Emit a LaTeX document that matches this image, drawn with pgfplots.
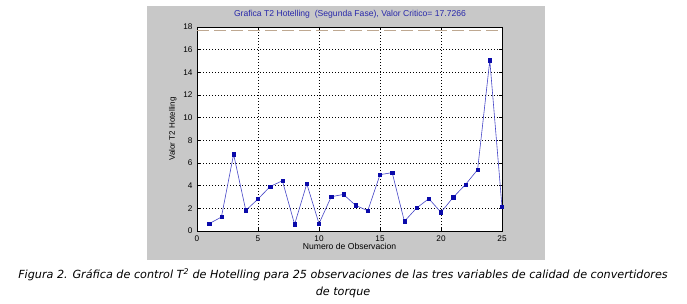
\documentclass[border=0pt]{standalone}
\usepackage{pgfplots}
\pgfplotsset{compat=1.18}
\usepackage{fontspec}
\setmainfont{Liberation Sans}
\newfontfamily\capfont{DejaVu Sans}
\definecolor{panelgray}{RGB}{200,200,200}
\definecolor{linecol}{RGB}{70,70,200}
\definecolor{markcol}{RGB}{10,10,170}
\definecolor{critcol}{RGB}{190,168,145}
\definecolor{titlecol}{RGB}{40,40,170}
\begin{document}
\begin{tikzpicture}[x=1pt,y=1pt]
\path[use as bounding box, fill=white] (0,0) rectangle (687,303);
\fill[panelgray] (147,43) rectangle (545,297);
\begin{axis}[
  at={(197pt,72pt)}, anchor=south west,
  width=305pt, height=204pt, scale only axis,
  xmin=0, xmax=25, ymin=0, ymax=18,
  xtick={0,5,...,25}, ytick={0,2,...,18},
  grid=major,
  major grid style={black, dash pattern=on 1pt off 2pt, line width=0.55pt},
  axis background/.style={fill=white},
  axis line style={black, line width=0.5pt},
  tick align=inside, major tick length=3pt,
  tick style={black, line width=0.4pt},
  tick label style={font=\fontsize{8.2}{9}\selectfont},
  /pgf/number format/assume math mode=true,
  xticklabel style={yshift=-1pt},
  yticklabel style={xshift=-1pt},
  xlabel={Numero de Observacion},
  xlabel style={font=\fontsize{8.6}{9}\selectfont, at={(axis description cs:0.5,-0.078)}, anchor=center},
  ylabel={Valor T2 Hotelling},
  ylabel style={font=\fontsize{8}{9}\selectfont, at={(axis description cs:-0.079,0.5)}, anchor=center},
  clip=false,
]
\addplot[critcol, line width=1pt, dash pattern=on 12pt off 5pt, forget plot] coordinates {(0,17.7266) (25,17.7266)};
\addplot[linecol, line width=0.6pt, mark=square*, mark size=1.6pt, mark options={solid, fill=markcol, draw=markcol}] coordinates {
(1,0.65) (2,1.23) (3,6.77) (4,1.82) (5,2.82) (6,3.93) (7,4.43) (8,0.59) (9,4.16) (10,0.65)
(11,3.02) (12,3.23) (13,2.26) (14,1.79) (15,4.97) (16,5.15) (17,0.85) (18,2.03) (19,2.85) (20,1.65)
(21,2.97) (22,4.09) (23,5.41) (24,15.06) (25,2.12)
};
\end{axis}
\node[font=\fontsize{8.6}{10}\selectfont, text=titlecol] at (350,289) {Grafica T2 Hotelling\ \ (Segunda Fase), Valor Critico= 17.7266};
\node[font=\fontsize{11.2}{13}\capfont\itshape] at (343,28) {Figura 2. Gráfica de control T\textsuperscript{2} de Hotelling para 25 observaciones de las tres variables de calidad de convertidores};
\node[font=\fontsize{11.2}{13}\capfont\itshape] at (343,11) {de torque};
\end{tikzpicture}
\end{document}
